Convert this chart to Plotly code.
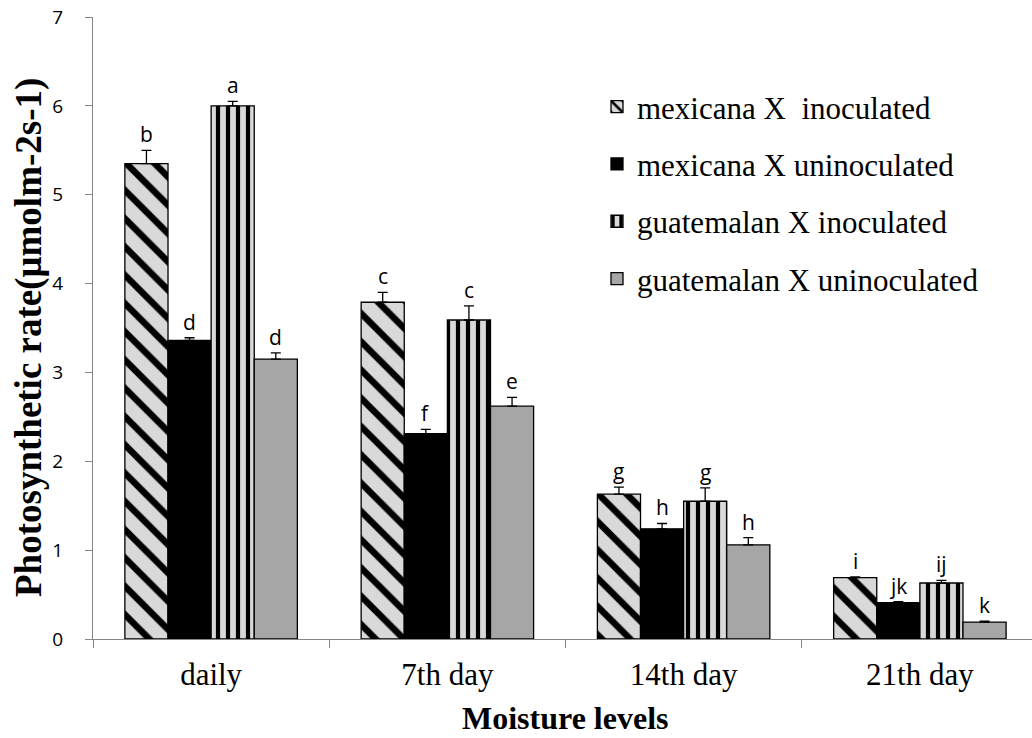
import plotly.graph_objects as go

categories = ["daily", "7th day", "14th day", "21th day"]
series_names = ["mexicana X\u00a0 inoculated", "mexicana X uninoculated",
                "guatemalan X inoculated", "guatemalan X uninoculated"]
mex_inoc = [5.35, 3.79, 1.63, 0.69]
mex_unin = [3.36, 2.31, 1.24, 0.41]
gua_inoc = [6.00, 3.59, 1.55, 0.63]
gua_unin = [3.15, 2.62, 1.06, 0.19]
err_mex_inoc = [0.15, 0.11, 0.08, 0.01]
err_mex_unin = [0.03, 0.05, 0.06, 0.01]
err_gua_inoc = [0.05, 0.16, 0.15, 0.03]
err_gua_unin = [0.07, 0.10, 0.08, 0.01]
let_mex_inoc = ["b", "c", "g", "i"]
let_mex_unin = ["d", "f", "h", "jk"]
let_gua_inoc = ["a", "c", "g", "ij"]
let_gua_unin = ["d", "e", "h", "k"]
y_ticks = [0, 1, 2, 3, 4, 5, 6, 7]

values = [mex_inoc, mex_unin, gua_inoc, gua_unin]
errors = [err_mex_inoc, err_mex_unin, err_gua_inoc, err_gua_unin]
letters = [let_mex_inoc, let_mex_unin, let_gua_inoc, let_gua_unin]

styles = [
    dict(color="#d9d9d9", pattern=dict(shape="\\", fgcolor="#000000", bgcolor="#d9d9d9",
                                       fgopacity=1, size=20, solidity=0.33)),
    dict(color="black"),
    dict(color="#d9d9d9", pattern=dict(shape="|", fgcolor="#000000", bgcolor="#d9d9d9",
                                       fgopacity=1, size=10, solidity=0.42)),
    dict(color="#a6a6a6"),
]

W, H = 1032, 738
L, T, B, R = 93, 17, 99, 0
plot_w = W - L - R
plot_h = H - T - B
full_w = 945.0  # full axis length (extends past right edge)
nx = len(categories)
xmax = -0.5 + nx * plot_w / full_w
bargap = 0.27

fig = go.Figure()
for i in range(4):
    st = styles[i]
    marker = dict(color=st["color"], line=dict(color="black", width=1.3))
    if "pattern" in st:
        marker["pattern"] = st["pattern"]
    fig.add_trace(go.Bar(
        x=categories, y=values[i], name=series_names[i],
        marker=marker, legendgroup=f"g{i}",
        error_y=dict(type="data", array=errors[i], arrayminus=[0] * nx,
                     symmetric=False, color="black", thickness=1.3, width=5),
    ))

# letters above error bars
cat_px = full_w / nx
bar_px = cat_px * (1 - bargap) / 4
for i in range(4):
    for j, c in enumerate(categories):
        fig.add_annotation(
            x=c, y=values[i][j] + errors[i][j], text=letters[i][j],
            xref="x", yref="y", showarrow=False, yanchor="bottom",
            xshift=(i - 1.5) * bar_px, yshift=0,
            font=dict(family="Open Sans", size=21, color="black"),
        )

# axis titles
fig.add_annotation(
    text="<b>Photosynthetic rate(μmolm-2s-1)</b>", textangle=-90,
    xref="paper", yref="paper", x=(29 - L) / plot_w, y=(H - B - 338) / plot_h,
    xanchor="center", yanchor="middle", showarrow=False,
    font=dict(family="Liberation Serif", size=37, color="black"),
)
fig.add_annotation(
    text="<b>Moisture levels</b>",
    xref="paper", yref="paper", x=(565 - L) / plot_w, y=(H - B - 718) / plot_h,
    xanchor="center", yanchor="middle", showarrow=False,
    font=dict(family="Liberation Serif", size=32, color="black"),
)

fig.update_layout(
    width=W, height=H, margin=dict(l=L, r=R, t=T, b=B),
    paper_bgcolor="white", plot_bgcolor="white",
    barmode="group", bargap=bargap, bargroupgap=0,
    showlegend=True,
    legend=dict(x=(597 - L) / plot_w, y=(H - B - 80) / plot_h, xanchor="left", yanchor="top",
                font=dict(family="Liberation Serif", size=31, color="black"),
                bgcolor="rgba(0,0,0,0)", tracegroupgap=14),
    xaxis=dict(range=[-0.5, xmax], showline=True, linecolor="#868686", linewidth=1.3,
               ticks="outside", tickson="boundaries", ticklen=8, tickcolor="#868686",
               showgrid=False, zeroline=False, ticklabelstandoff=8,
               tickfont=dict(family="Liberation Serif", size=31, color="black")),
    yaxis=dict(range=[0, 7], tickvals=y_ticks, showline=True, linecolor="#868686", linewidth=1.3,
               ticks="outside", ticklen=7, tickcolor="#868686", showgrid=False, zeroline=False,
               ticklabelstandoff=18,
               tickfont=dict(family="Open Sans", size=19, color="black")),
)

fig.write_html("out.html")
